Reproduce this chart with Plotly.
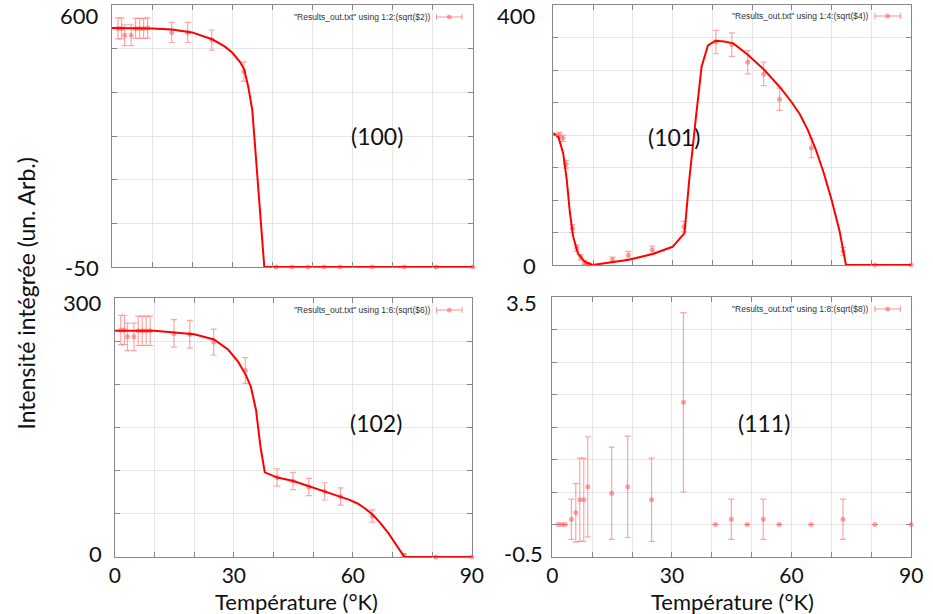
import plotly.graph_objects as go

W, H = 933, 614

# ---------------- data ----------------
temps = [1.5, 2.4, 3.2, 4.8, 5.9, 6.9, 7.9, 8.9, 14.9, 18.9, 24.9, 32.9,
         40.9, 44.9, 48.9, 52.9, 56.9, 64.9, 72.9, 80.9, 90.0]

# (100)
i100 = [542, 542, 525, 525, 542, 542, 542, 543, 532, 532, 513, 435,
        -50, -50, -50, -50, -50, -50, -50, -50, -50]
e100 = [26, 26, 26, 26, 25, 25, 25, 25, 25, 25, 25, 24,
        0, 0, 0, 0, 0, 0, 0, 0, 0]
fit100_t = [0, 5, 10, 15, 20, 25, 28, 30, 32, 33, 34, 35, 35.6, 36.8, 38, 90]
fit100_v = [543, 543, 542, 539, 532, 515, 498, 482, 458, 440, 397, 340, 260, 110, -50, -50]

# (101)
i101 = [200, 195, 155, 56, 26, 12, 4, 1, 8, 15, 23, 59,
        343, 339, 312, 294, 255, 180, 21, 0, 0]
e101 = [4, 5, 6, 6, 5, 4, 3, 2, 4, 6, 6, 8,
        18, 18, 18, 18, 17, 15, 6, 0, 0]
fit101_t = [0, 1.3, 2.5, 3.4, 4.2, 5.0, 6.2, 7.9, 9.9, 15, 19, 25, 30, 33, 34.2, 35.8,
            37.3, 38.9, 40.8, 43, 45.3, 49, 53.1, 57.2, 60, 62, 64, 66, 68, 70,
            72, 73.6, 90]
fit101_v = [203, 197, 172, 131, 80, 44, 18, 5, 0, 4, 8, 17, 28, 49, 131, 223,
            305, 338, 345, 344, 341, 323, 300, 272, 250, 232, 208, 178, 142, 100,
            52, 0, 0]

# (102)
i102 = [263, 263, 255, 255, 262, 262, 262, 262, 259, 258, 249, 216,
        92, 88, 81, 76, 70, 47.5, 2, 0, 0]
e102 = [17, 17, 16, 16, 17, 17, 17, 17, 16, 16, 15, 15,
        10, 10, 10, 10, 10, 7, 2, 0, 0]
fit102_t = [0, 10, 20, 25, 28.6, 31.1, 33, 34.3, 35.6, 36.7, 37.8, 41, 45, 49, 53, 57,
            59, 61.2, 63, 65.1, 67, 69, 71, 73, 90]
fit102_v = [262, 262, 258, 252, 240, 226, 211, 197, 170, 128, 98, 92, 88, 82, 76, 70,
            66.5, 62, 56.5, 48.7, 39, 27.4, 14, 0, 0]

# (111)
i111 = [0, 0, 0, 0.08, 0.18, 0.38, 0.38, 0.58, 0.48, 0.58, 0.38, 1.88,
        0, 0.08, 0, 0.08, 0, 0, 0.08, 0, 0]
e111 = [0, 0, 0, 0.31, 0.45, 0.64, 0.64, 0.77, 0.71, 0.78, 0.64, 1.38,
        0, 0.31, 0, 0.31, 0, 0, 0.31, 0, 0]

legend_texts = ['"Results_out.txt" using 1:2:(sqrt($2))',
                '"Results_out.txt" using 1:4:(sqrt($4))',
                '"Results_out.txt" using 1:6:(sqrt($6))',
                '"Results_out.txt" using 1:8:(sqrt($8))']
panel_labels = ["(100)", "(101)", "(102)", "(111)"]
y_ranges = [(-50, 600), (0, 400), (0, 300), (-0.5, 3.5)]
y_labels = [("600", "-50"), ("400", "0"), ("300", "0"), ("3.5", "-0.5")]
x_ticks = [0, 10, 20, 30, 40, 50, 60, 70, 80, 90]
x_ticklabels = ["0", "", "", "30", "", "", "60", "", "", "90"]

# ---------------- layout geometry (pixels) ----------------
boxes = [  # x0, x1, y_top, y_bottom
    (108, 476, 5, 267),
    (558, 923, 5, 265),
    (111, 475, 298, 557),
    (557, 923, 297, 557),
]
ndiv = [6, 8, 6, 8]

def px(x):
    return x / W

def py(y):
    return 1 - y / H

PT_COL = "rgba(255,90,90,0.55)"
LINE_COL = "#ff0000"
FONT = "Lato"
BIG = 23

fig = go.Figure()
series = [(i100, e100, fit100_t, fit100_v), (i101, e101, fit101_t, fit101_v),
          (i102, e102, fit102_t, fit102_v), (i111, e111, None, None)]

for k, (vals, errs, ft, fv) in enumerate(series):
    xa = "x" if k == 0 else f"x{k+1}"
    ya = "y" if k == 0 else f"y{k+1}"
    fig.add_trace(go.Scatter(
        x=temps, y=vals, xaxis=xa, yaxis=ya, mode="markers",
        marker=dict(symbol="circle", size=5, color=PT_COL),
        error_y=dict(type="data", array=errs, visible=True, color=PT_COL,
                     thickness=1.2, width=3),
        showlegend=False, cliponaxis=False))
    if ft is not None:
        fig.add_trace(go.Scatter(
            x=ft, y=fv, xaxis=xa, yaxis=ya, mode="lines",
            line=dict(color=LINE_COL, width=2),
            showlegend=False))

annotations = []
shapes = []
for k, (x0, x1, yt, yb) in enumerate(boxes):
    sx = "" if k == 0 else str(k + 1)
    lo, hi = y_ranges[k]
    step = (hi - lo) / ndiv[k]
    bottom = k >= 2
    fig.layout[f"xaxis{sx}"] = dict(
        domain=[px(x0), px(x1)], range=[0, 90], anchor=f"y{sx}",
        tickmode="array", tickvals=x_ticks,
        ticktext=x_ticklabels if bottom else [""] * len(x_ticks),
        showticklabels=bottom,
        ticks="inside", ticklen=5, tickcolor="#888", tickwidth=1,
        showline=True, linecolor="#888", linewidth=1, mirror="ticks",
        showgrid=True, gridcolor="#e6e6e6", gridwidth=1, zeroline=False,
        tickfont=dict(family=FONT, size=21, color="#111"))
    fig.layout[f"yaxis{sx}"] = dict(
        domain=[py(yb), py(yt)], range=[lo, hi], anchor=f"x{sx}",
        tickmode="linear", tick0=lo, dtick=step, showticklabels=False,
        ticks="inside", ticklen=5, tickcolor="#888", tickwidth=1,
        showline=True, linecolor="#888", linewidth=1, mirror="ticks",
        showgrid=True, gridcolor="#e6e6e6", gridwidth=1, zeroline=False)

# y end labels (pasted-on style)
ylab_pos = [((97, 15), (97, 267)), ((542, 15), (542, 265)),
            ((100, 302), (100, 553)), ((543, 302), (550, 553))]
for k, ((xa_, ya_), (xb_, yb_)) in enumerate(ylab_pos):
    top, bot = y_labels[k]
    annotations.append(dict(text=top, x=px(xa_), y=py(ya_), xref="paper", yref="paper",
                            xanchor="right", yanchor="middle", showarrow=False,
                            font=dict(family=FONT, size=22, color="#111")))
    annotations.append(dict(text=bot, x=px(xb_), y=py(yb_), xref="paper", yref="paper",
                            xanchor="right", yanchor="middle", showarrow=False,
                            font=dict(family=FONT, size=22, color="#111")))

# panel labels
plab_pos = [(378, 136), (681, 137), (377, 423), (773, 423)]
for k, (xx, yy) in enumerate(plab_pos):
    annotations.append(dict(text=panel_labels[k], x=px(xx), y=py(yy), xref="paper",
                            yref="paper", xanchor="center", yanchor="middle",
                            showarrow=False, font=dict(family=FONT, size=BIG, color="#111")))

# legends (text + sample)
leg_pos = [(435, 17), (882, 16), (435, 310), (882, 309)]
for k, (xx, yy) in enumerate(leg_pos):
    annotations.append(dict(text=legend_texts[k], x=px(xx), y=py(yy), xref="paper",
                            yref="paper", xanchor="right", yanchor="middle",
                            showarrow=False,
                            font=dict(family="Liberation Sans", size=8.5, color="#333")))
    sx0, sx1 = xx + 4, xx + 30
    shapes.append(dict(type="line", xref="paper", yref="paper", x0=px(sx0), x1=px(sx1),
                       y0=py(yy), y1=py(yy), line=dict(color=PT_COL, width=1.2)))
    for cx in (sx0, sx1):
        shapes.append(dict(type="line", xref="paper", yref="paper", x0=px(cx), x1=px(cx),
                           y0=py(yy - 3), y1=py(yy + 3), line=dict(color=PT_COL, width=1.2)))
    mx = (sx0 + sx1) / 2
    shapes.append(dict(type="circle", xref="paper", yref="paper", x0=px(mx - 2.5),
                       x1=px(mx + 2.5), y0=py(yy + 2.5), y1=py(yy - 2.5),
                       fillcolor=PT_COL, line=dict(width=0)))

# axis titles
for cx in (296, 741):
    annotations.append(dict(text="Température (°K)", x=px(cx), y=py(601), xref="paper",
                            yref="paper", xanchor="center", yanchor="middle",
                            showarrow=False, font=dict(family=FONT, size=22, color="#111")))
annotations.append(dict(text="Intensité intégrée (un. Arb.)", x=px(20), y=py(293),
                        xref="paper", yref="paper", xanchor="center", yanchor="middle",
                        textangle=-90, showarrow=False,
                        font=dict(family=FONT, size=23, color="#111")))

fig.update_layout(width=W, height=H, margin=dict(l=0, r=0, t=0, b=0),
                  paper_bgcolor="white", plot_bgcolor="white",
                  annotations=annotations, shapes=shapes, showlegend=False)

fig.write_html("out.html", config={"displayModeBar": False},
               post_script="document.body.style.margin='0px';"
                           "document.body.style.overflow='hidden';")
